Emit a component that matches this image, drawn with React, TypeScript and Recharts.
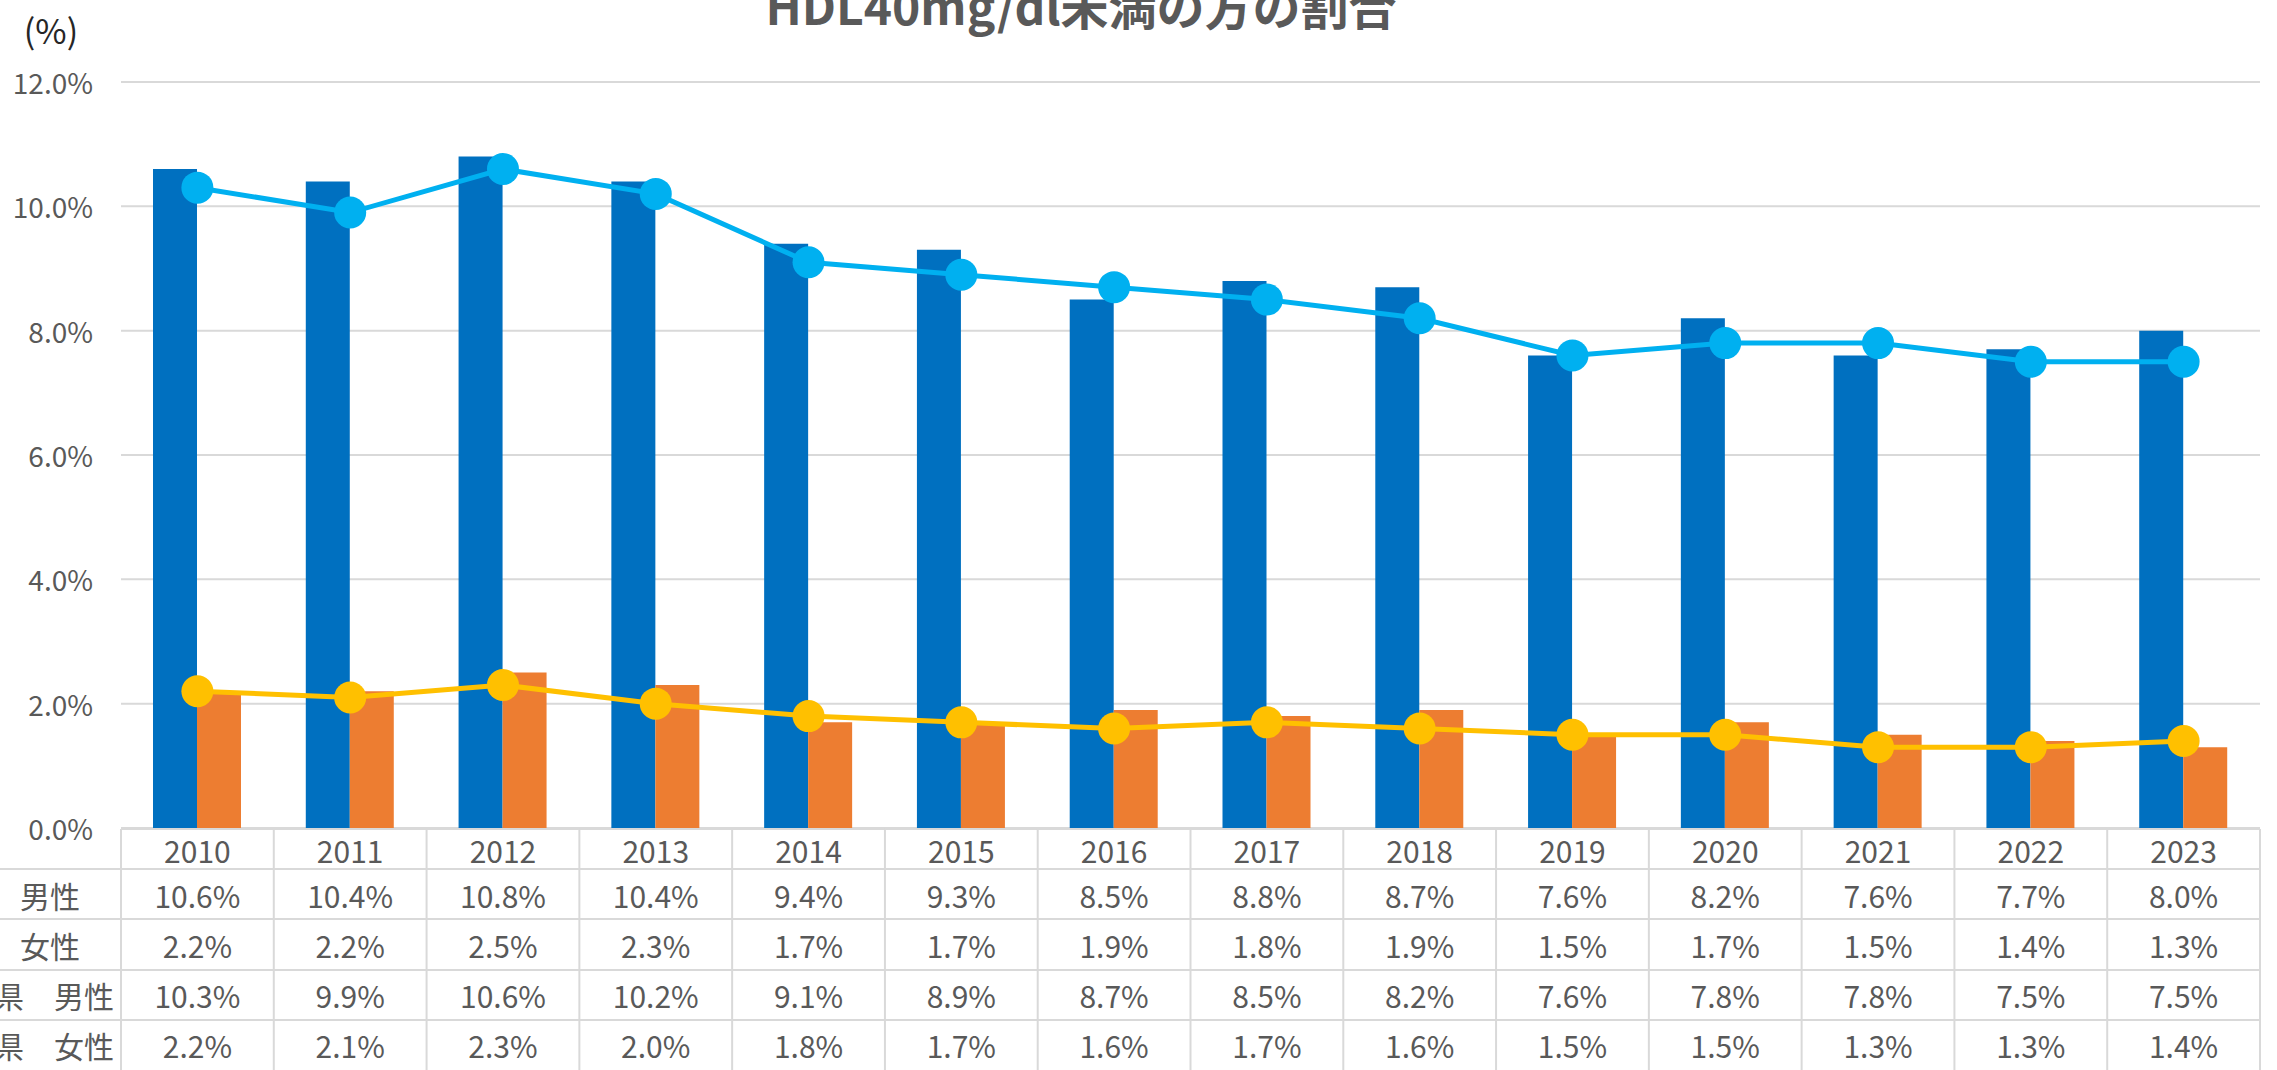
import React from 'react';
import { ComposedChart, Bar, Line, XAxis, YAxis, CartesianGrid, Customized } from 'recharts';

const years = ['2010', '2011', '2012', '2013', '2014', '2015', '2016', '2017', '2018', '2019', '2020', '2021', '2022', '2023'];
const maleRate = [10.6, 10.4, 10.8, 10.4, 9.4, 9.3, 8.5, 8.8, 8.7, 7.6, 8.2, 7.6, 7.7, 8.0];
const femaleRate = [2.2, 2.2, 2.5, 2.3, 1.7, 1.7, 1.9, 1.8, 1.9, 1.5, 1.7, 1.5, 1.4, 1.3];
const prefMaleRate = [10.3, 9.9, 10.6, 10.2, 9.1, 8.9, 8.7, 8.5, 8.2, 7.6, 7.8, 7.8, 7.5, 7.5];
const prefFemaleRate = [2.2, 2.1, 2.3, 2.0, 1.8, 1.7, 1.6, 1.7, 1.6, 1.5, 1.5, 1.3, 1.3, 1.4];
const rowLabels = ['男性', '女性', '県　男性', '県　女性'];
const rowSeries = [maleRate, femaleRate, prefMaleRate, prefFemaleRate];
const yTicks = [0, 2, 4, 6, 8, 10, 12];

const W = 2277;
const H = 1070;
const plotLeft = 121;
const plotRight = 2260;
const plotTop = 82;
const plotBottom = 828;
const band = (plotRight - plotLeft) / years.length;

const FONT = '"Noto Sans CJK JP", "Noto Sans", sans-serif';
const TEXT = '#595959';
const LINE = '#D9D9D9';

// table geometry
const rowLines = [829, 869, 919, 970, 1020];
const rowCenters = [850, 895, 945, 995, 1045];

const data = years.map((year, i) => ({
    year,
    male: maleRate[i],
    female: femaleRate[i],
    prefMale: prefMaleRate[i],
    prefFemale: prefFemaleRate[i],
}));

const fmt = (v: number) => v.toFixed(1) + '%';

const TableColumn = (props: any) => {
    const { x, index } = props;
    const i = index;
    const l = x - band / 2;
    const r = x + band / 2;
    return (
        <g>
            <line x1={l} y1={rowLines[0]} x2={l} y2={H} stroke={LINE} strokeWidth={2} />
            {i === years.length - 1 && <line x1={r} y1={rowLines[0]} x2={r} y2={H} stroke={LINE} strokeWidth={2} />}
            {rowLines.map((y, k) => (
                <line key={k} x1={l} y1={y} x2={r} y2={y} stroke={LINE} strokeWidth={2} />
            ))}
            <text x={x} y={rowCenters[0]} textAnchor="middle" dominantBaseline="central" fontSize={30} fill={TEXT} fontFamily={FONT}>
                {years[i]}
            </text>
            {rowSeries.map((s, k) => (
                <text key={k} x={x} y={rowCenters[k + 1]} textAnchor="middle" dominantBaseline="central" fontSize={30} fill={TEXT} fontFamily={FONT}>
                    {fmt(s[i])}
                </text>
            ))}
        </g>
    );
};

const YTick = (props: any) => {
    const { y, payload } = props;
    return (
        <text x={93} y={y} textAnchor="end" dominantBaseline="central" fontSize={28} fill={TEXT} fontFamily={FONT}>
            {payload.value.toFixed(1) + '%'}
        </text>
    );
};

const Extras = () => (
    <g>
        <text x={1081} y={25} textAnchor="middle" fontSize={48} fontWeight="bold" fill={TEXT} fontFamily={FONT}>
            HDL40mg/dl未満の方の割合
        </text>
        <text x={51} y={29} textAnchor="middle" dominantBaseline="central" fontSize={34} fill="#262626" fontFamily={FONT}>
            (%)
        </text>
        {rowLines.slice(1).map((y, k) => (
            <line key={k} x1={0} y1={y} x2={plotLeft} y2={y} stroke={LINE} strokeWidth={2} />
        ))}
        {rowLabels.map((label, k) => (
            <text
                key={k}
                x={k < 2 ? 50 : 114}
                y={rowCenters[k + 1]}
                textAnchor={k < 2 ? 'middle' : 'end'}
                dominantBaseline="central"
                fontSize={30}
                fill={TEXT}
                fontFamily={FONT}
            >
                {label}
            </text>
        ))}
    </g>
);

export default function App() {
    return (
        <div style={{ position: 'absolute', left: 0, top: 0, width: W, height: H, background: '#fff' }}>
            <ComposedChart
                width={W}
                height={H}
                data={data}
                margin={{ top: plotTop, right: W - plotRight, left: 0, bottom: 0 }}
                barGap={0}
            >
                <CartesianGrid vertical={false} stroke={LINE} strokeWidth={2} />
                <XAxis
                    dataKey="year"
                    height={H - plotBottom}
                    axisLine={false}
                    tickLine={false}
                    interval={0}
                    tick={<TableColumn />}
                />
                <YAxis
                    width={plotLeft}
                    domain={[0, 12]}
                    ticks={yTicks}
                    axisLine={false}
                    tickLine={false}
                    tick={<YTick />}
                />
                <Bar dataKey="male" fill="#0070C0" barSize={44} isAnimationActive={false} />
                <Bar dataKey="female" fill="#ED7D31" barSize={44} isAnimationActive={false} />
                <Line
                    dataKey="prefMale"
                    stroke="#00B0F0"
                    strokeWidth={5}
                    dot={{ r: 16, fill: '#00B0F0', stroke: '#00B0F0', strokeWidth: 0 }}
                    isAnimationActive={false}
                />
                <Line
                    dataKey="prefFemale"
                    stroke="#FFC000"
                    strokeWidth={5}
                    dot={{ r: 16, fill: '#FFC000', stroke: '#FFC000', strokeWidth: 0 }}
                    isAnimationActive={false}
                />
                <Customized component={Extras} />
            </ComposedChart>
        </div>
    );
}
